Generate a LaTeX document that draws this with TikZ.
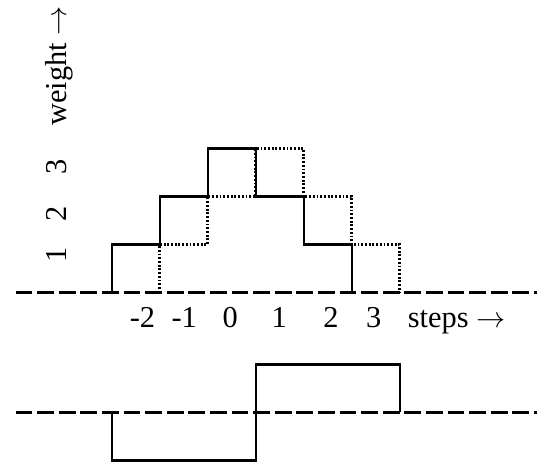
\documentclass[tikz,border=0pt]{standalone}
\usepackage{fontspec}
\setmainfont{Liberation Serif}
\usetikzlibrary{positioning}
\begin{document}
\begin{tikzpicture}[line width=1.2pt,
	axisline/.style={line width=2.3pt, dash pattern=on 0.35cm off 0.1cm},
	shifted/.style={line width=1.5pt, dash pattern=on 1.1pt off 1.1pt},
	steplabel/.style={anchor=base, inner sep=0pt},
	weightlabel/.style={anchor=base, rotate=90, inner sep=0pt},
	font=\fontsize{18}{22}\selectfont]
	\useasboundingbox (-2.327,-3.531) rectangle (9.069,6.094);

	% upper plot
	\draw[color=black] (0,0) -- (0,1) -- (1,1) -- (1,2) -- (2,2) -- (2,3) -- (3,3) -- (3,2) -- (4,2) -- (4,1) -- (5,1) -- (5,0);
	\draw[shifted] (1,0) -- (1,1) -- (2,1) -- (2,2) -- (3,2) -- (3,3) -- (4,3) -- (4,2) -- (5,2) -- (5,1) -- (6,1) -- (6,0);
	\draw[axisline] (-2.0,0) to (8.86,0);

	\node[steplabel] (sm2) at (0.64,-0.72) {-2};
	\node[steplabel] (sm1) at (1.51,-0.72) {-1};
	\node[steplabel] (s0) at (2.47,-0.72) {0};
	\node[steplabel] (s1) at (3.49,-0.72) {1};
	\node[steplabel] (s2) at (4.57,-0.72) {2};
	\node[steplabel] (s3) at (5.46,-0.72) {3};
	\node[steplabel, anchor=base west] (steps) at (6.15,-0.72) {steps $\rightarrow$};

	\node[weightlabel] (w1) at (-0.95,0.78) {1};
	\node[weightlabel] (w2) at (-0.95,1.64) {2};
	\node[weightlabel] (w3) at (-0.95,2.62) {3};
	\node[weightlabel] (weight) at (-0.95,4.72) {weight $\rightarrow$};

	% lower plot
	\draw[color=black] (0,-2.5) -- (0,-3.5) -- (3,-3.5) -- (3,-1.5) -- (6,-1.5) -- (6,-2.5);
	\draw[axisline] (-2.0,-2.5) to (8.86,-2.5);
\end{tikzpicture}
\end{document}
